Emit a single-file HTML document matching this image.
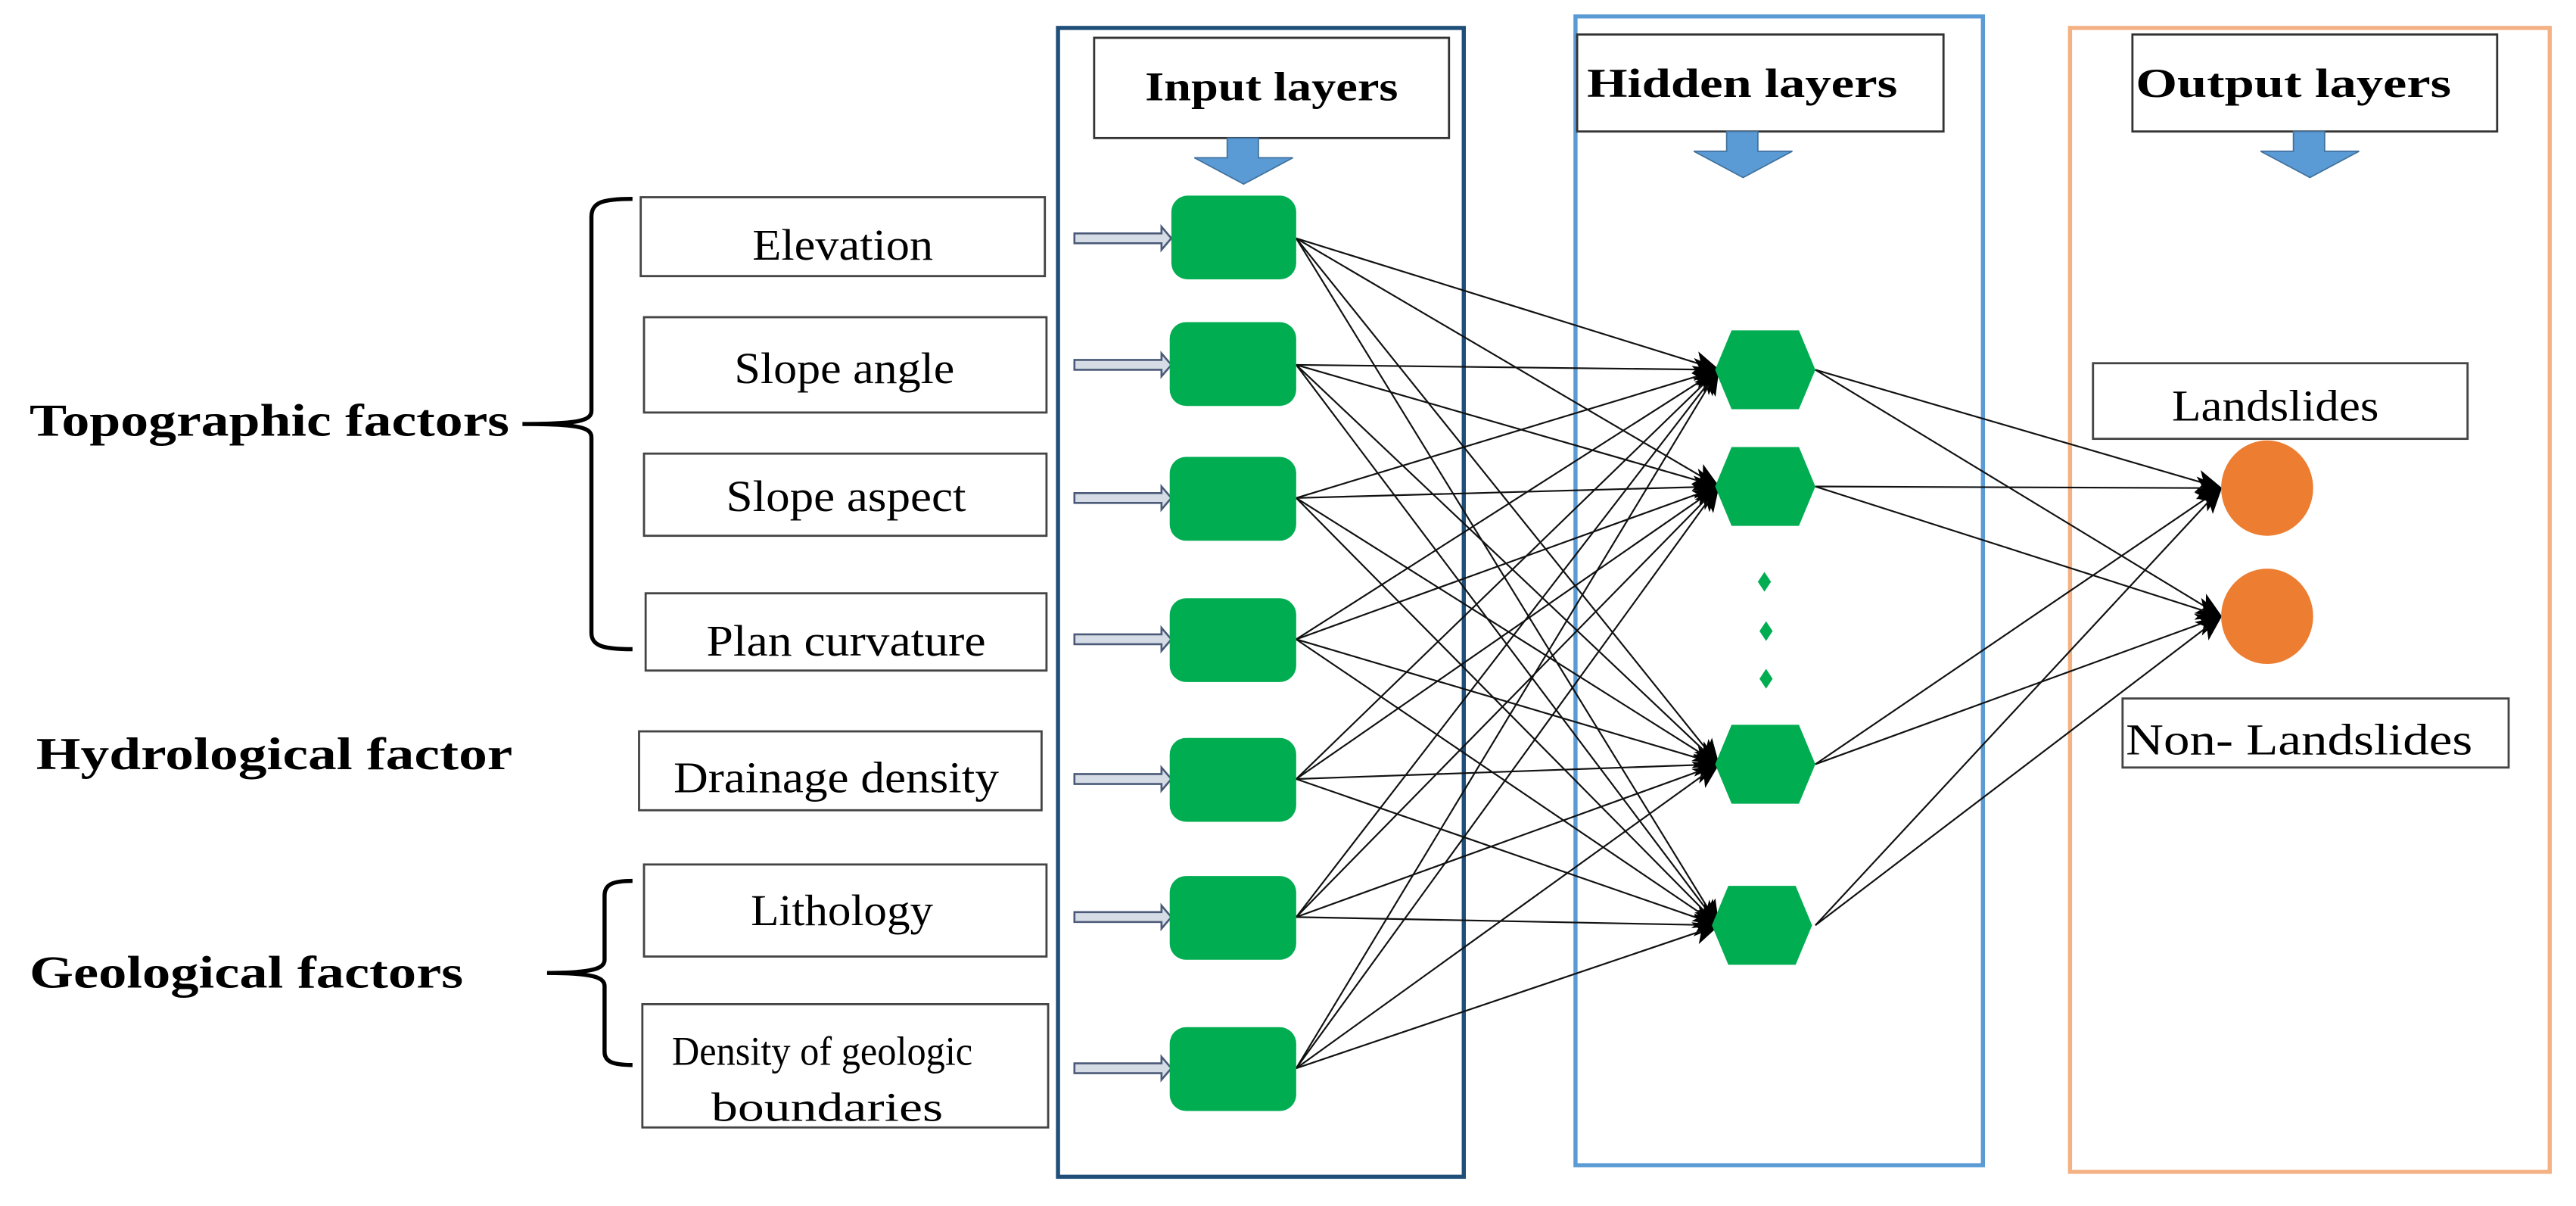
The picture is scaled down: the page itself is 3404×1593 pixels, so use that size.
<!DOCTYPE html>
<html><head><meta charset="utf-8"><style>html,body{margin:0;padding:0;background:#fff}svg{display:block}</style></head><body>
<svg width="3404" height="1593" viewBox="0 0 1568 733.8" preserveAspectRatio="none" xmlns="http://www.w3.org/2000/svg" font-family="Liberation Serif, serif">
<defs>
<marker id="ah2" markerWidth="16" markerHeight="14" refX="15" refY="7" orient="auto" markerUnits="userSpaceOnUse"><path d="M0,0 L16,7 L0,14 L4,7 z" fill="#000"/></marker>
</defs>
<rect width="1568" height="733.8" fill="#fff"/>
<rect x="644" y="17" width="247" height="699" fill="none" stroke="#1F4E79" stroke-width="2.5"/>
<rect x="959" y="10" width="248" height="699" fill="none" stroke="#5B9BD5" stroke-width="2.5"/>
<rect x="1260" y="17" width="292" height="696" fill="none" stroke="#F4B183" stroke-width="2.5"/>
<g fill="#fff" stroke="#333" stroke-width="1.3">
<rect x="666" y="23" width="216" height="61"/>
<rect x="960" y="21" width="223" height="59"/>
<rect x="1298" y="21" width="222" height="59"/>
</g>
<g font-weight="bold" font-size="25" lengthAdjust="spacingAndGlyphs">
<text x="697" y="61" textLength="154" lengthAdjust="spacingAndGlyphs">Input layers</text>
<text x="966" y="59" textLength="189" lengthAdjust="spacingAndGlyphs">Hidden layers</text>
<text x="1300" y="59" textLength="192" lengthAdjust="spacingAndGlyphs">Output layers</text>
</g>
<g fill="#5B9BD5" stroke="#41719C" stroke-width="0.8">
<path d="M747,84 h19 v12 h21 l-30,16 l-30,-16 h20z"/>
<path d="M1051,80 h19 v12 h21 l-30,16 l-30,-16 h20z"/>
<path d="M1396,80 h19 v12 h21 l-30,16 l-30,-16 h20z"/>
</g>
<g fill="#fff" stroke="#444" stroke-width="1.3">
<rect x="390" y="120" width="246" height="48"/>
<rect x="392" y="193" width="245" height="58"/>
<rect x="392" y="276" width="245" height="50"/>
<rect x="393" y="361" width="244" height="47"/>
<rect x="389" y="445" width="245" height="48"/>
<rect x="392" y="526" width="245" height="56"/>
<rect x="391" y="611" width="247" height="75"/>
</g>
<g font-size="27">
<text x="458" y="158" textLength="110" lengthAdjust="spacingAndGlyphs">Elevation</text>
<text x="447" y="233" textLength="134" lengthAdjust="spacingAndGlyphs">Slope angle</text>
<text x="442" y="311" textLength="146" lengthAdjust="spacingAndGlyphs">Slope aspect</text>
<text x="430" y="399" textLength="170" lengthAdjust="spacingAndGlyphs">Plan curvature</text>
<text x="410" y="482" textLength="198" lengthAdjust="spacingAndGlyphs">Drainage density</text>
<text x="457" y="563" textLength="111" lengthAdjust="spacingAndGlyphs">Lithology</text>
<text x="409" y="648" font-size="25" textLength="183" lengthAdjust="spacingAndGlyphs">Density of geologic</text>
<text x="433" y="682" font-size="25" textLength="141" lengthAdjust="spacingAndGlyphs">boundaries</text>
</g>
<g font-weight="bold" font-size="28">
<text x="18" y="265" textLength="292" lengthAdjust="spacingAndGlyphs">Topographic  factors</text>
<text x="22" y="468" textLength="290" lengthAdjust="spacingAndGlyphs">Hydrological  factor</text>
<text x="18" y="601" textLength="264" lengthAdjust="spacingAndGlyphs">Geological  factors</text>
</g>
<g fill="none" stroke="#000" stroke-width="2.5">
<path d="M385,121 C367,121 360,123 360,132 L360,250 C360,256 352,258 318,258 C352,258 360,260 360,266 L360,385 C360,393 367,395 385,395"/>
<path d="M385,536 C373,536 368,538 368,545 L368,584 C368,589 362,592 333,592 C362,592 368,595 368,600 L368,640 C368,646 373,648 385,648"/>
</g>
<g stroke="#111" stroke-width="1" fill="none" marker-end="url(#ah2)">
<path d="M789,145 L1046,225"/><path d="M789,145 L1046,296"/><path d="M789,145 L1046,465"/><path d="M789,145 L1046,563"/>
<path d="M789,222 L1046,225"/><path d="M789,222 L1046,296"/><path d="M789,222 L1046,465"/><path d="M789,222 L1046,563"/>
<path d="M789,303 L1046,225"/><path d="M789,303 L1046,296"/><path d="M789,303 L1046,465"/><path d="M789,303 L1046,563"/>
<path d="M789,389 L1046,225"/><path d="M789,389 L1046,296"/><path d="M789,389 L1046,465"/><path d="M789,389 L1046,563"/>
<path d="M789,474 L1046,225"/><path d="M789,474 L1046,296"/><path d="M789,474 L1046,465"/><path d="M789,474 L1046,563"/>
<path d="M789,558 L1046,225"/><path d="M789,558 L1046,296"/><path d="M789,558 L1046,465"/><path d="M789,558 L1046,563"/>
<path d="M789,650 L1046,225"/><path d="M789,650 L1046,296"/><path d="M789,650 L1046,465"/><path d="M789,650 L1046,563"/>
<path d="M1105,225 L1352,297"/><path d="M1105,225 L1352,375"/>
<path d="M1105,296 L1352,297"/><path d="M1105,296 L1352,375"/>
<path d="M1105,465 L1352,297"/><path d="M1105,465 L1352,375"/>
<path d="M1105,563 L1352,297"/><path d="M1105,563 L1352,375"/>
</g>
<g fill="#D6DCE5" stroke="#4A5A78" stroke-width="1.2">
<path d="M654,142 h53 v-4 l6,7 l-6,7 v-4 h-53z"/>
<path d="M654,219 h53 v-4 l6,7 l-6,7 v-4 h-53z"/>
<path d="M654,300 h53 v-4 l6,7 l-6,7 v-4 h-53z"/>
<path d="M654,386 h53 v-4 l6,7 l-6,7 v-4 h-53z"/>
<path d="M654,471 h53 v-4 l6,7 l-6,7 v-4 h-53z"/>
<path d="M654,555 h53 v-4 l6,7 l-6,7 v-4 h-53z"/>
<path d="M654,647 h53 v-4 l6,7 l-6,7 v-4 h-53z"/>
</g>
<g fill="#00AD50">
<rect x="713" y="119" width="76" height="51" rx="10"/>
<rect x="712" y="196" width="77" height="51" rx="10"/>
<rect x="712" y="278" width="77" height="51" rx="10"/>
<rect x="712" y="364" width="77" height="51" rx="10"/>
<rect x="712" y="449" width="77" height="51" rx="10"/>
<rect x="712" y="533" width="77" height="51" rx="10"/>
<rect x="712" y="625" width="77" height="51" rx="10"/>
</g>
<g fill="#00AD50">
<path d="M1044,225 l10,-24 h41 l10,24 l-10,24 h-41z"/>
<path d="M1044,296 l10,-24 h41 l10,24 l-10,24 h-41z"/>
<path d="M1044,465 l10,-24 h41 l10,24 l-10,24 h-41z"/>
<path d="M1042,563 l10,-24 h41 l10,24 l-10,24 h-41z"/>
<path d="M1074,348 l4,6 l-4,6 l-4,-6z"/>
<path d="M1075,378 l4,6 l-4,6 l-4,-6z"/>
<path d="M1075,407 l4,6 l-4,6 l-4,-6z"/>
</g>
<g fill="#fff" stroke="#444" stroke-width="1.3">
<rect x="1274" y="221" width="228" height="46"/>
<rect x="1292" y="425" width="235" height="42"/>
</g>
<g font-size="27">
<text x="1322" y="256" textLength="126" lengthAdjust="spacingAndGlyphs">Landslides</text>
<text x="1294" y="459" textLength="211" lengthAdjust="spacingAndGlyphs">Non- Landslides</text>
</g>
<g fill="#ED7D31">
<ellipse cx="1380" cy="297" rx="28" ry="29"/>
<ellipse cx="1380" cy="375" rx="28" ry="29"/>
</g>
</svg>
</body></html>
